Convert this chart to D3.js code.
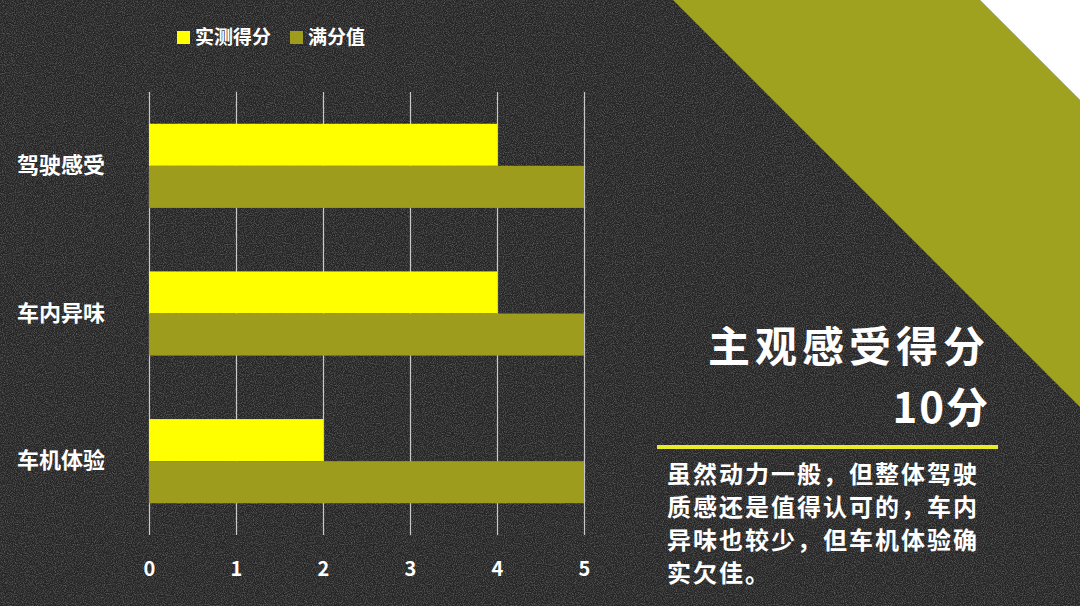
<!DOCTYPE html>
<html>
<head>
<meta charset="utf-8">
<script src="https://cdn.jsdelivr.net/npm/d3@7"></script>
<style>
  html, body { margin: 0; padding: 0; background: #2b2b2b; }
  svg { display: block; font-family: "Noto Sans CJK SC", "Noto Sans", sans-serif; }
</style>
</head>
<body>
<svg id="chart"></svg>
<script>
const categories = ["驾驶感受", "车内异味", "车机体验"];
const measured = [4, 4, 2];
const fullScore = [5, 5, 5];
const seriesNames = ["实测得分", "满分值"];
const xTicks = [0, 1, 2, 3, 4, 5];
const title = ["主观感受得分", "10分"];
const note = ["虽然动力一般，但整体驾驶", "质感还是值得认可的，车内", "异味也较少，但车机体验确", "实欠佳。"];

const W = 1080, H = 606;
const colors = ["#ffff00", "#9e9c1c"];

const svg = d3.select("#chart").attr("width", W).attr("height", H);

// noisy dark background
const defs = svg.append("defs");
const noise = defs.append("filter").attr("id", "noise")
  .attr("x", 0).attr("y", 0).attr("width", "100%").attr("height", "100%");
noise.append("feTurbulence").attr("type", "fractalNoise")
  .attr("baseFrequency", 0.9).attr("numOctaves", 2).attr("seed", 3).attr("result", "t");
noise.append("feColorMatrix").attr("type", "matrix")
  .attr("values", "0 0 0 0 1  0 0 0 0 1  0 0 0 0 1  0 0 0 -2.2 1.35");

svg.append("rect").attr("width", W).attr("height", H).attr("fill", "#252525");
svg.append("rect").attr("width", W).attr("height", H).attr("fill", "#fff")
  .attr("filter", "url(#noise)").attr("opacity", 0.24);

// diagonal band top-right
svg.append("polygon")
  .attr("points", [[673, 0], [980, 0], [1080, 100], [1080, 407]].join(" "))
  .attr("fill", "#9ea21e");
svg.append("polygon")
  .attr("points", [[980, 0], [1080, 0], [1080, 100]].join(" "))
  .attr("fill", "#ffffff");

const margin = { top: 92, left: 149 };
const plotW = 435, plotH = 443;

const x = d3.scaleLinear().domain([0, 5]).range([0, plotW]);
const y = d3.scaleBand().domain(categories).range([0, plotH])
  .paddingInner(0.43).paddingOuter(0.215);
const sub = d3.scaleBand().domain(seriesNames).range([0, y.bandwidth()]);

const g = svg.append("g").attr("transform", "translate(" + margin.left + "," + margin.top + ")");

// vertical grid lines
g.append("g")
  .call(d3.axisBottom(x).tickValues(xTicks).tickSize(plotH).tickFormat(""))
  .call(s => s.select(".domain").remove())
  .call(s => s.selectAll("line").attr("stroke", "#c8c8c8").attr("stroke-width", 1.2));

// bars
const series = [measured, fullScore];
series.forEach((vals, i) => {
  g.append("g").selectAll("rect")
    .data(categories)
    .join("rect")
    .attr("x", 0)
    .attr("y", (d) => y(d) + sub(seriesNames[i]))
    .attr("width", (d, j) => x(vals[j]))
    .attr("height", sub.bandwidth())
    .attr("fill", colors[i]);
});

// x tick labels
g.append("g")
  .attr("transform", "translate(0," + (plotH + 27) + ")")
  .call(d3.axisBottom(x).tickValues(xTicks).tickFormat(d3.format("d")).tickSize(0).tickPadding(0))
  .call(s => s.select(".domain").remove())
  .call(s => s.selectAll("text").attr("fill", "#ffffff").attr("font-size", 20)
    .attr("font-weight", "bold").attr("font-family", "'Noto Sans CJK SC', sans-serif"));

// category labels
g.append("g")
  .attr("transform", "translate(-44,0)")
  .call(d3.axisLeft(y).tickSize(0).tickPadding(0))
  .call(s => s.select(".domain").remove())
  .call(s => s.selectAll("text").attr("fill", "#ffffff").attr("font-size", 22)
    .attr("font-weight", "bold").attr("font-family", "'Noto Sans CJK SC', sans-serif"));

// legend
const legendPos = [177, 290];
const legend = svg.append("g").selectAll("g").data(seriesNames).join("g")
  .attr("transform", (d, i) => "translate(" + legendPos[i] + ",31)");
legend.append("rect").attr("width", 13).attr("height", 13).attr("fill", (d, i) => colors[i]);
legend.append("text").attr("x", 18).attr("y", 6.5).attr("dy", "0.36em")
  .attr("fill", "#ffffff").attr("font-size", 19).attr("font-weight", "bold")
  .text(d => d);

// title block
svg.append("g").selectAll("text").data(title).join("text")
  .attr("x", 990).attr("y", (d, i) => 362 + i * 61)
  .attr("text-anchor", "end").attr("fill", "#ffffff")
  .attr("font-size", 42).attr("font-weight", "bold")
  .attr("letter-spacing", (d, i) => i === 0 ? 5 : 2)
  .text(d => d);

svg.append("line").attr("x1", 657).attr("x2", 998).attr("y1", 447).attr("y2", 447)
  .attr("stroke", "#e8ea2a").attr("stroke-width", 4);

svg.append("g").selectAll("text").data(note).join("text")
  .attr("x", 667).attr("y", (d, i) => 483 + i * 33)
  .attr("fill", "#ffffff").attr("font-size", 24).attr("font-weight", "bold")
  .attr("letter-spacing", 2)
  .text(d => d);
</script>
</body>
</html>
